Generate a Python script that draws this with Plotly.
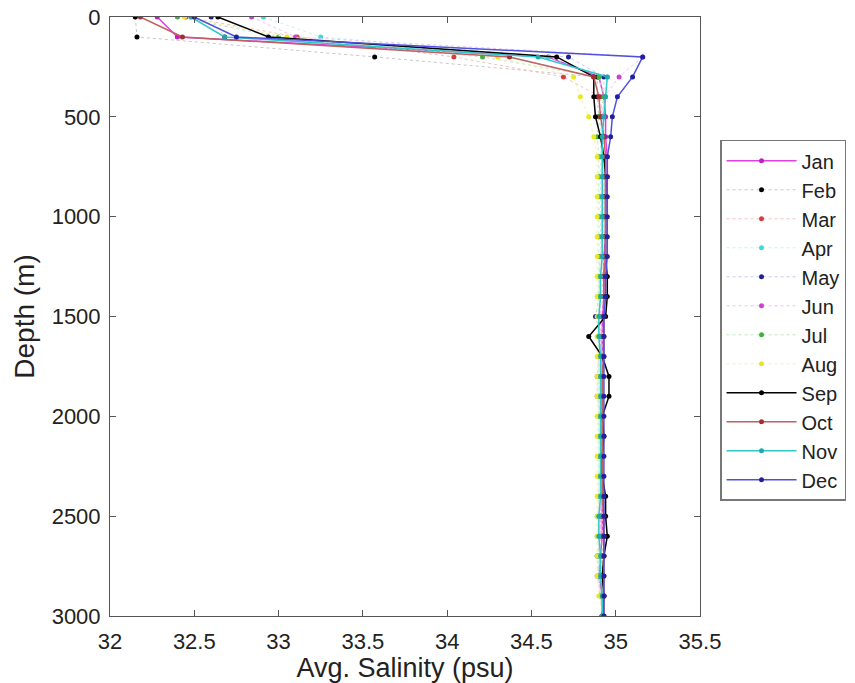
import plotly.graph_objects as go

depths = list(range(0, 3001, 100))
months = ["Jan", "Feb", "Mar", "Apr", "May", "Jun", "Jul", "Aug", "Sep", "Oct", "Nov", "Dec"]

jan = [32.28, 32.40, 34.60, 34.90, 34.93, 34.94, 34.94, 34.95, 34.95, 34.94, 34.94, 34.94, 34.93, 34.93, 34.93, 34.92,
       34.92, 34.92, 34.92, 34.92, 34.92, 34.92, 34.92, 34.92, 34.92, 34.92, 34.92, 34.91, 34.90, 34.92, 34.92]
feb = [32.15, 32.16, 33.57, 34.89, 34.89, 34.90, 34.92, 34.93, 34.94, 34.94, 34.94, 34.94, 34.94, 34.94, 34.94, 34.93,
       34.92, 34.92, 34.92, 34.92, 34.92, 34.92, 34.92, 34.92, 34.93, 34.93, 34.93, 34.92, 34.92, 34.92, 34.92]
mar = [32.45, 33.11, 34.04, 34.69, 34.91, 34.92, 34.92, 34.93, 34.93, 34.93, 34.93, 34.93, 34.93, 34.92, 34.92, 34.92,
       34.91, 34.91, 34.91, 34.91, 34.91, 34.91, 34.92, 34.92, 34.92, 34.92, 34.92, 34.92, 34.92, 34.93, 34.92]
apr = [32.91, 33.25, 34.60, 34.95, 34.94, 34.92, 34.91, 34.91, 34.91, 34.91, 34.91, 34.91, 34.91, 34.90, 34.90, 34.90,
       34.90, 34.90, 34.90, 34.90, 34.90, 34.90, 34.90, 34.90, 34.90, 34.89, 34.89, 34.90, 34.90, 34.91, 34.92]
may = [32.60, 32.68, 34.72, 34.93, 34.93, 34.93, 34.93, 34.93, 34.93, 34.93, 34.93, 34.92, 34.92, 34.91, 34.90, 34.88,
       34.91, 34.91, 34.91, 34.91, 34.91, 34.91, 34.91, 34.91, 34.91, 34.91, 34.91, 34.89, 34.90, 34.91, 34.92]
jun = [32.84, 33.10, 35.16, 35.02, 34.93, 34.92, 34.92, 34.92, 34.92, 34.92, 34.92, 34.92, 34.91, 34.90, 34.91, 34.91,
       34.91, 34.90, 34.89, 34.89, 34.91, 34.91, 34.91, 34.91, 34.91, 34.91, 34.91, 34.91, 34.89, 34.91, 34.92]
jul = [32.40, 33.00, 34.21, 34.90, 34.93, 34.90, 34.89, 34.90, 34.90, 34.90, 34.90, 34.90, 34.90, 34.90, 34.90, 34.90,
       34.90, 34.90, 34.90, 34.90, 34.90, 34.90, 34.90, 34.90, 34.90, 34.90, 34.90, 34.90, 34.90, 34.91, 34.92]
aug = [32.44, 33.05, 34.30, 34.75, 34.79, 34.84, 34.87, 34.89, 34.89, 34.89, 34.89, 34.89, 34.89, 34.89, 34.89, 34.89,
       34.89, 34.89, 34.89, 34.89, 34.89, 34.89, 34.89, 34.89, 34.89, 34.89, 34.89, 34.89, 34.89, 34.90, 34.92]
sep = [32.64, 32.94, 34.65, 34.87, 34.87, 34.88, 34.91, 34.93, 34.94, 34.94, 34.94, 34.94, 34.94, 34.95, 34.95, 34.94,
       34.84, 34.92, 34.96, 34.96, 34.92, 34.93, 34.92, 34.92, 34.94, 34.94, 34.95, 34.93, 34.92, 34.93, 34.92]
oct_ = [32.18, 32.43, 34.37, 34.87, 34.90, 34.91, 34.93, 34.94, 34.94, 34.94, 34.94, 34.94, 34.94, 34.93, 34.93, 34.93,
        34.93, 34.93, 34.92, 34.92, 34.92, 34.92, 34.92, 34.92, 34.92, 34.93, 34.93, 34.93, 34.93, 34.93, 34.93]
nov = [32.48, 32.68, 34.54, 34.95, 34.94, 34.93, 34.92, 34.92, 34.92, 34.92, 34.92, 34.92, 34.92, 34.91, 34.91, 34.90,
       34.90, 34.91, 34.91, 34.91, 34.91, 34.91, 34.91, 34.91, 34.91, 34.90, 34.90, 34.91, 34.91, 34.92, 34.92]
dec = [32.50, 32.75, 35.16, 35.10, 35.01, 34.98, 34.97, 34.95, 34.95, 34.95, 34.95, 34.95, 34.95, 34.94, 34.94, 34.93,
       34.93, 34.93, 34.93, 34.93, 34.93, 34.93, 34.93, 34.93, 34.93, 34.93, 34.93, 34.93, 34.93, 34.93, 34.93]

series = [jan, feb, mar, apr, may, jun, jul, aug, sep, oct_, nov, dec]

line_colors = ["#e040e0", "#c8c8c8", "#f4c0c0", "#c0f4f4", "#c8c8ee", "#f4c0f4", "#c0e8c0", "#f4f4a8",
               "#000000", "#c06060", "#30c8c8", "#5050e0"]
marker_colors = ["#c020c0", "#000000", "#d04040", "#40d8d8", "#202090", "#d040d0", "#40b040", "#e8e820",
                 "#000000", "#a03030", "#20a8a8", "#2020a0"]
dashes = ["solid", "dot", "dot", "dot", "dot", "dot", "dot", "dot", "solid", "solid", "solid", "solid"]
widths = [1.5, 1, 1, 1, 1, 1, 1, 1, 1.5, 1.5, 1.5, 1.5]

fig = go.Figure()
for name, vals, lc, mc, ds, w in zip(months, series, line_colors, marker_colors, dashes, widths):
    fig.add_trace(go.Scatter(
        x=vals, y=depths, name=name, mode="lines+markers",
        line=dict(color=lc, dash=ds, width=w),
        marker=dict(color=mc, size=5),
    ))

font_family = "Liberation Sans, Arial, sans-serif"
fig.update_layout(
    width=855, height=683,
    margin=dict(l=110, r=155, t=17, b=67, autoexpand=False),
    paper_bgcolor="white", plot_bgcolor="white",
    font=dict(family=font_family, size=22, color="#222"),
    showlegend=True,
    legend=dict(
        x=1.034, y=0.795, xanchor="left", yanchor="top",
        bordercolor="#777", borderwidth=1.5, bgcolor="white",
        font=dict(size=20, family=font_family, color="#222"),
        itemwidth=70, tracegroupgap=0, entrywidth=140,
    ),
)
fig.update_xaxes(
    range=[32, 35.5], dtick=0.5, tick0=32,
    ticks="inside", ticklen=6, tickcolor="#555", mirror="ticks",
    showline=True, linecolor="#555", linewidth=1, showgrid=False, zeroline=False,
    title=dict(text="Avg. Salinity (psu)", font=dict(size=27), standoff=1),
    tickfont=dict(size=22), ticklabelstandoff=6,
)
fig.update_yaxes(
    range=[3000, 0], dtick=500, tick0=0,
    ticks="inside", ticklen=6, tickcolor="#555", mirror="ticks",
    showline=True, linecolor="#555", linewidth=1, showgrid=False, zeroline=False,
    title=dict(text="Depth (m)", font=dict(size=28), standoff=8),
    tickfont=dict(size=22), ticklabelstandoff=4,
)

fig.write_html(
    "out.html",
    config={"displayModeBar": False},
    post_script="document.body.style.margin='0px';document.body.style.overflow='hidden';",
)
